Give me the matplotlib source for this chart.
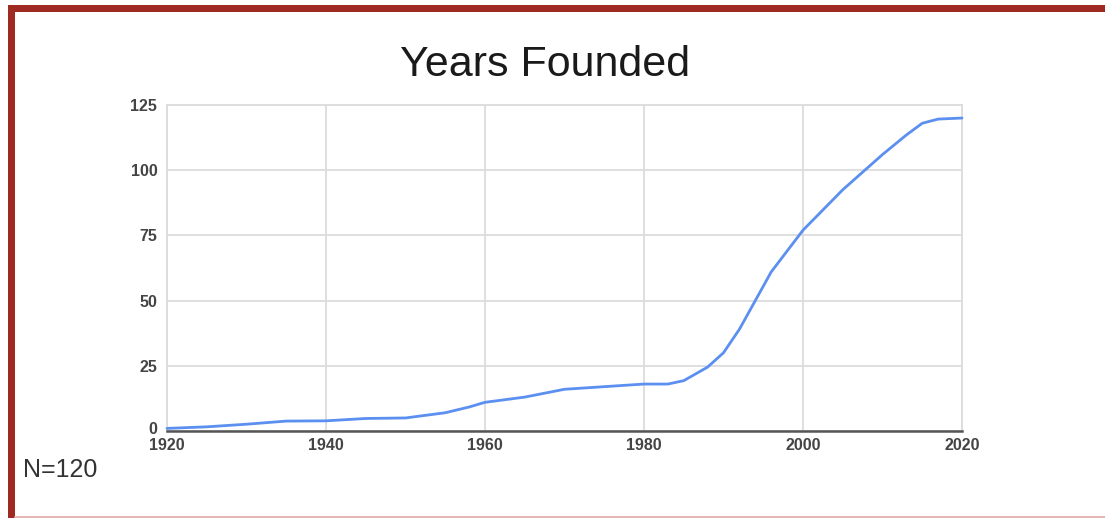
import matplotlib
matplotlib.use("Agg")
import matplotlib.pyplot as plt
import matplotlib.transforms as mtransforms
from matplotlib.patches import Rectangle
from matplotlib.lines import Line2D

# cumulative count of organisations by founding year
years = [1920, 1925, 1930, 1935, 1940, 1945, 1950, 1955, 1958, 1960, 1965,
         1970, 1975, 1980, 1983, 1985, 1988, 1990, 1992, 1994, 1996, 1998,
         2000, 2005, 2010, 2013, 2015, 2017, 2020]
founded = [1, 1.6, 2.6, 3.8, 3.9, 4.8, 5, 7, 9.2, 11, 13,
           16, 17, 18, 18, 19.3, 24.5, 30, 39, 50, 61, 69,
           77, 92.5, 106, 113.5, 118, 119.6, 120]

x_ticks = [1920, 1940, 1960, 1980, 2000, 2020]
y_ticks = [0, 25, 50, 75, 100, 125]

plt.rcParams['font.family'] = ['Liberation Sans', 'DejaVu Sans']

W, H = 1105, 518
fig = plt.figure(figsize=(W / 100, H / 100), dpi=100)
fig.patch.set_facecolor('white')

ax = fig.add_axes([167 / W, 1 - 431 / H, (962 - 167) / W, (431 - 105) / H])
ax.plot(years, founded, color='#5b8ff0', linewidth=2.0, solid_joinstyle='round',
        solid_capstyle='round', zorder=3, clip_on=False)

ax.set_xlim(1920, 2020)
ax.set_ylim(0, 125)
ax.set_xticks(x_ticks)
ax.set_yticks(y_ticks)
ax.grid(True, color='#dcdcdc', linewidth=1.3)
ax.set_axisbelow(True)

for side in ['top', 'right', 'left']:
    ax.spines[side].set_color('#dcdcdc')
    ax.spines[side].set_linewidth(1.3)
ax.spines['bottom'].set_color('#555555')
ax.spines['bottom'].set_linewidth(1.8)

ax.tick_params(length=0, labelsize=11.5, labelcolor='#444444')
ax.tick_params(axis='y', pad=7)
ax.tick_params(axis='x', pad=5)
for lab in ax.get_xticklabels() + ax.get_yticklabels():
    lab.set_fontweight('bold')
# nudge the zero label up a little so it clears the year labels
zero_lab = ax.get_yticklabels()[0]
zero_lab.set_transform(zero_lab.get_transform()
                       + mtransforms.ScaledTranslation(0, 0.03, fig.dpi_scale_trans))

fig.text(545 / W, 1 - 65 / H, 'Years Founded', ha='center', va='center',
         fontsize=31, color='#1a1a1a')
fig.text(23 / W, 1 - 470 / H, 'N=120', ha='left', va='center',
         fontsize=18, color='#333333')

# dark red frame on the top and left, faint line at the bottom
red = '#9e2a22'
fig.add_artist(Rectangle((8 / W, 1 - 11.5 / H), 1 - 8 / W, 6.5 / H,
                         transform=fig.transFigure, color=red, lw=0))
fig.add_artist(Rectangle((8 / W, 0), 7 / W, 1 - 5 / H,
                         transform=fig.transFigure, color=red, lw=0))
fig.add_artist(Line2D([15 / W, 1], [1.5 / H, 1.5 / H], transform=fig.transFigure,
                      color='#e0a8a8', linewidth=1.2))

fig.savefig('out.png', dpi=100)
